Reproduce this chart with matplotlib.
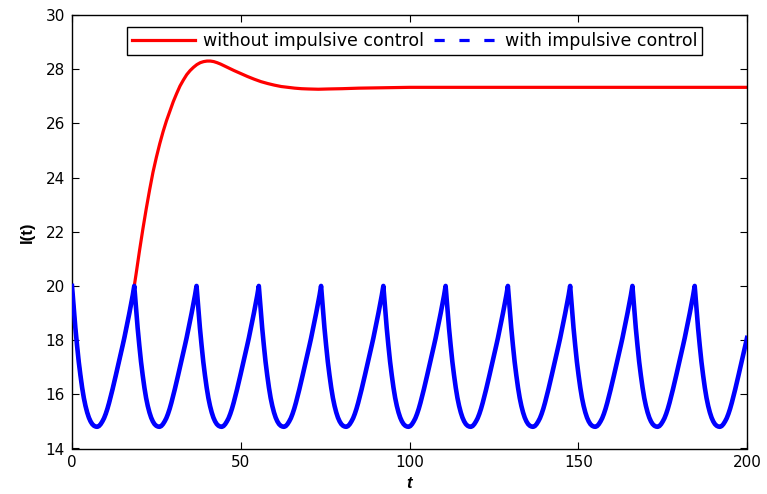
import numpy as np
import matplotlib
matplotlib.use("Agg")
import matplotlib.pyplot as plt
from matplotlib.lines import Line2D

plt.rcParams['font.family'] = ['DejaVu Sans']

# ---- data ----
# impulse (peak) times of the controlled system
pulse_times = [0, 18.45, 36.9, 55.35, 73.8, 92.25, 110.7, 129.15, 147.6, 166.05, 184.5]
# one cycle of I(t) between impulses (offset from the impulse time, value)
cycle_offsets = [0, 0.5, 1, 1.5, 2, 2.5, 3, 3.5, 4, 4.5, 5, 5.5, 6, 6.5, 7, 7.5,
                 8, 8.5, 9, 9.5, 10, 10.5, 11, 11.5, 12, 12.5, 13, 13.5, 14, 14.5,
                 15, 15.5, 16, 16.5, 17, 17.5, 18, 18.45]
cycle_values = [20.0, 19.2, 18.45, 17.8, 17.2, 16.7, 16.25, 15.87, 15.57, 15.33, 15.14, 15.0, 14.9, 14.84, 14.81, 14.8,
                14.83, 14.9, 15.0, 15.12, 15.28, 15.47, 15.69, 15.93, 16.18, 16.44, 16.71, 16.98, 17.25, 17.52,
                17.8, 18.08, 18.38, 18.69, 19.0, 19.32, 19.66, 20.0]

# without impulsive control (after the first cycle, which coincides with the controlled one)
red_t = [18.45, 19, 20, 21, 22, 23, 24, 25, 26, 27, 28, 29, 30, 31, 32, 33, 34, 35, 36, 37, 38, 39, 40, 41,
         42, 43, 44, 45, 46, 47, 48, 50, 52, 54, 56, 58, 60, 62, 64, 66, 68, 70, 73, 76, 80, 85, 90, 95, 100, 200]
red_y = [20.0, 20.45, 21.3, 22.1, 22.85, 23.55, 24.2, 24.75, 25.25, 25.7, 26.1, 26.45, 26.8, 27.1, 27.38, 27.6,
         27.8, 27.95, 28.07, 28.17, 28.24, 28.28, 28.3, 28.3, 28.28, 28.24, 28.19, 28.13, 28.07, 28.01, 27.95,
         27.84, 27.73, 27.63, 27.54, 27.47, 27.41, 27.36, 27.33, 27.3, 27.28, 27.27, 27.26, 27.27, 27.28, 27.3,
         27.31, 27.32, 27.33, 27.33]

x_ticks = [0, 50, 100, 150, 200]
y_ticks = [14, 16, 18, 20, 22, 24, 26, 28, 30]

# ---- assemble the controlled series ----
bt, by = [], []
for p in pulse_times:
    for o, v in zip(cycle_offsets, cycle_values):
        t = p + o
        if t <= 200:
            bt.append(t)
            by.append(v)

# red series including the first (shared) cycle
rt = list(cycle_offsets[:-1]) + red_t
ry = list(cycle_values[:-1]) + red_y

fig = plt.figure(figsize=(7.67, 4.94), dpi=100)
ax = fig.add_axes([72/767, 45.5/494, 675/767, 433.5/494])

ax.plot(rt, ry, color='#ff0000', lw=2.3, zorder=2, solid_joinstyle='round')
ax.plot(bt, by, color='#0000ff', lw=3.3, zorder=3, solid_joinstyle='round')

ax.set_xlim(0, 200)
ax.set_ylim(14, 30)
ax.set_xticks(x_ticks)
ax.set_yticks(y_ticks)
ax.tick_params(direction='in', top=True, right=True, length=5, width=0.8, labelsize=11, pad=5)
for s in ax.spines.values():
    s.set_linewidth(1.0)

ax.set_xlabel('t', fontsize=12, fontweight='bold', fontstyle='italic', labelpad=4,
              family=['Liberation Sans', 'DejaVu Sans'])
ax.set_ylabel('I(t)', fontsize=12, fontweight='bold', labelpad=8,
              family=['Liberation Sans', 'DejaVu Sans'])

handles = [Line2D([], [], color='#ff0000', lw=2.3),
           Line2D([], [], color='#0000ff', lw=2.3, dashes=(3.2, 4.6))]
leg = ax.legend(handles, ['without impulsive control', 'with impulsive control'],
                loc='upper center', bbox_to_anchor=(0.508, 1 - 12/434), ncol=2,
                fontsize=12.5, handlelength=3.6, handletextpad=0.5, columnspacing=0.55,
                fancybox=False, framealpha=1, edgecolor='black', borderpad=0.28,
                borderaxespad=0)
leg.get_frame().set_linewidth(1.0)

fig.savefig('out.png', dpi=100)
